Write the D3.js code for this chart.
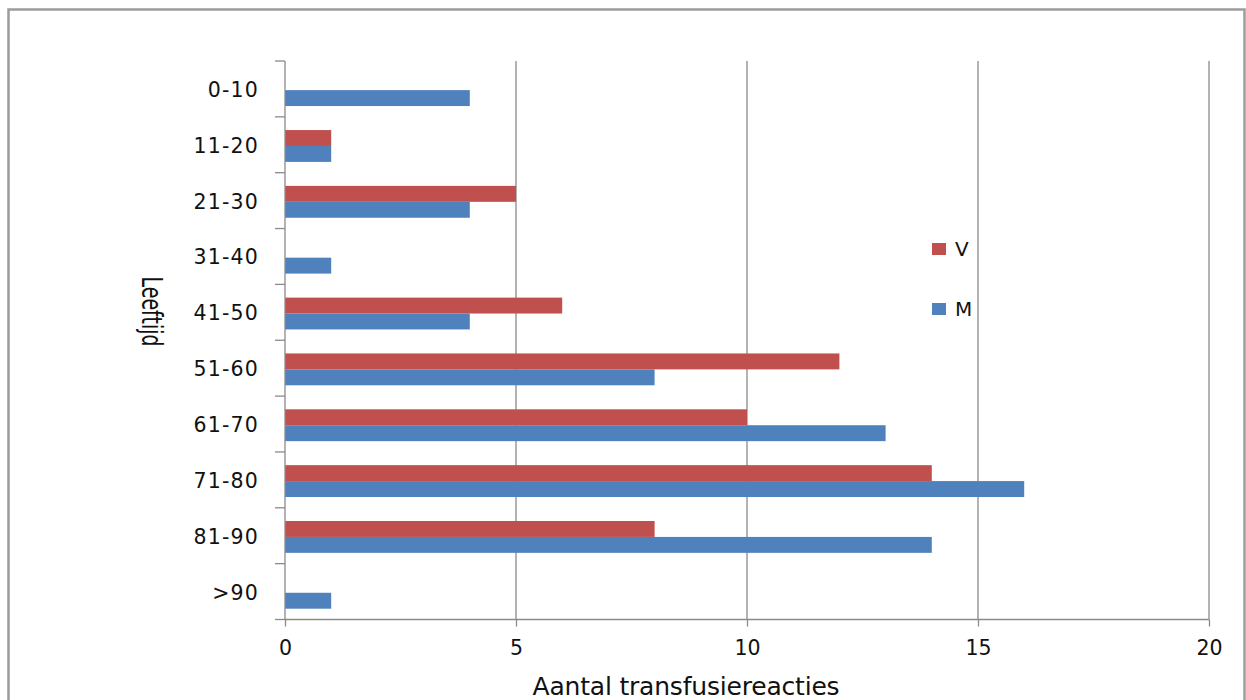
<!DOCTYPE html>
<html>
<head>
<meta charset="utf-8">
<script src="https://cdn.jsdelivr.net/npm/d3@7"></script>
<style>
  html, body { margin: 0; padding: 0; background: #fff; }
  svg { display: block; }
  text { font-family: "DejaVu Sans", sans-serif; fill: #111; }
</style>
</head>
<body>
<svg id="chart" width="1246" height="700"></svg>
<script>
const categories = ["0-10","11-20","21-30","31-40","41-50","51-60","61-70","71-80","81-90",">90"];
const seriesNames = ["V","M"];
const valuesV = [0,1,5,0,6,12,10,14,8,0];
const valuesM = [4,1,4,1,4,8,13,16,14,1];
const xTickValues = [0,5,10,15,20];
const colors = {V: "#C0504D", M: "#4F81BD"};

const svg = d3.select("#chart");

// outer frame
svg.append("rect")
  .attr("x", 8.5).attr("y", 9.5)
  .attr("width", 1236).attr("height", 720)
  .attr("fill", "none").attr("stroke", "#9c9c9c").attr("stroke-width", 2.5);

const x = d3.scaleLinear().domain([0, 20]).range([285, 1209]);
const yTop = 61, yBot = 619.5;
const y = d3.scaleBand().domain(categories).range([yTop, yBot]).paddingInner(0.43).paddingOuter(0.215);
const yBars = d3.scaleBand().domain(categories).range([yTop + 1.2, yBot + 1.2]).paddingInner(0.43).paddingOuter(0.215);
const inner = d3.scaleBand().domain(seriesNames).range([0, yBars.bandwidth()]);
const gridColor = "#8a8a8a";

// vertical gridlines
svg.append("g").selectAll("line").data(xTickValues.filter(d => d > 0)).join("line")
  .attr("x1", d => x(d)).attr("x2", d => x(d))
  .attr("y1", yTop).attr("y2", yBot)
  .attr("stroke", gridColor).attr("stroke-width", 1.3);

// bars
const data = categories.map((c, i) => ({cat: c, V: valuesV[i], M: valuesM[i]}));
const groups = svg.append("g").selectAll("g").data(data).join("g")
  .attr("transform", d => `translate(0,${yBars(d.cat)})`);
groups.selectAll("rect").data(d => seriesNames.map(s => ({s, v: d[s]}))).join("rect")
  .attr("x", x(0))
  .attr("y", d => inner(d.s))
  .attr("width", d => x(d.v) - x(0))
  .attr("height", inner.bandwidth())
  .attr("fill", d => colors[d.s]);

// bottom x axis
const xAxis = d3.axisBottom(x).tickValues(xTickValues).tickSize(7).tickPadding(14);
const gx = svg.append("g").attr("transform", `translate(0,${yBot})`).call(xAxis);
gx.select(".domain").attr("stroke", gridColor).attr("stroke-width", 1.3).attr("d", `M${x(0)},0H${x(20)}`);
gx.selectAll(".tick line").attr("stroke", gridColor).attr("stroke-width", 1.3);
gx.selectAll(".tick text").attr("font-size", 20.5).attr("font-family", "DejaVu Sans").attr("fill", "#111").attr("dy", "0.71em");

// left y axis (line + ticks at band boundaries)
svg.append("line")
  .attr("x1", x(0)).attr("x2", x(0)).attr("y1", yTop).attr("y2", yBot)
  .attr("stroke", gridColor).attr("stroke-width", 1.3);
const boundaries = d3.range(categories.length + 1).map(i => yTop + i * y.step());
svg.append("g").selectAll("line").data(boundaries).join("line")
  .attr("x1", x(0) - 10).attr("x2", x(0))
  .attr("y1", d => d).attr("y2", d => d)
  .attr("stroke", gridColor).attr("stroke-width", 1.3);

// category labels
svg.append("g").selectAll("text").data(categories).join("text")
  .attr("x", 259)
  .attr("y", d => y(d) + y.bandwidth() / 2 + 8)
  .attr("text-anchor", "end")
  .attr("font-size", 20.5)
  .attr("letter-spacing", "1.2px")
  .text(d => d);

// axis titles
svg.append("text")
  .attr("x", 686).attr("y", 695)
  .attr("text-anchor", "middle")
  .attr("font-size", 25)
  .attr("letter-spacing", "-0.2px")
  .text("Aantal transfusiereacties");

svg.append("text")
  .attr("transform", "translate(142,311.5) rotate(90) scale(1,1.5)")
  .attr("text-anchor", "middle")
  .attr("font-size", 19)
  .text("Leeftijd");

// legend
const legend = svg.append("g").selectAll("g").data(seriesNames).join("g")
  .attr("transform", (d, i) => `translate(932,${243 + i * 60})`);
legend.append("rect").attr("width", 14).attr("height", 12).attr("fill", d => colors[d]);
legend.append("text").attr("x", 23).attr("y", 13).attr("font-size", 20).text(d => d);
</script>
</body>
</html>
